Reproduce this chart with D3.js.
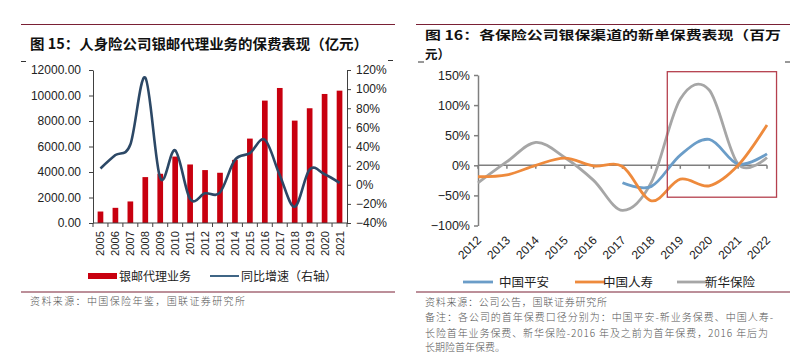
<!DOCTYPE html>
<html><head><meta charset="utf-8">
<script src="https://cdn.jsdelivr.net/npm/d3@7"></script>
<style>
html,body{margin:0;padding:0;background:#fff;}
svg{display:block;}
text{font-family:"Liberation Sans",Arial,sans-serif;}
.cjk{font-family:"Noto Sans CJK SC","Noto Sans",sans-serif;}
</style></head>
<body>
<svg id="c" width="807" height="355"></svg>
<script>
// ---------- Data: chart 15 ----------
const years1 = ["2005","2006","2007","2008","2009","2010","2011","2012","2013","2014","2015","2016","2017","2018","2019","2020","2021"];
const premium = [900,1190,1690,3600,3860,5210,4590,4150,3940,4950,6620,9600,10590,8030,9000,10120,10380];
const growth = [0.17,0.31,0.42,1.12,0.07,0.36,-0.15,-0.09,-0.08,0.26,0.33,0.47,0.10,-0.23,0.16,0.11,0.02];
const leftTicks1 = [0,2000,4000,6000,8000,10000,12000];
const rightTicks1 = [-0.4,-0.2,0,0.2,0.4,0.6,0.8,1.0,1.2];
const legend1 = ["银邮代理业务","同比增速（右轴）"];
const title1 = "图 15：人身险公司银邮代理业务的保费表现（亿元）";
const source1 = "资料来源：中国保险年鉴，国联证券研究所";

// ---------- Data: chart 16 ----------
const years2 = ["2012","2013","2014","2015","2016","2017","2018","2019","2020","2021","2022"];
const pingan = [null,null,null,null,null,-0.29,-0.35,0.17,0.43,0.02,0.19];
const renshou = [-0.19,-0.16,0.0,0.12,-0.01,-0.02,-0.59,-0.23,-0.34,0.0,0.67];
const xinhua = [-0.29,0.06,0.38,0.13,-0.25,-0.75,-0.28,1.10,1.25,0.02,0.13];
const seriesNames2 = ["中国平安","中国人寿","新华保险"];
const yTicks2 = [-1,-0.5,0,0.5,1,1.5];
const title2a = "图 16：各保险公司银保渠道的新单保费表现（百万";
const title2b = "元）";
const source2 = ["资料来源：公司公告，国联证券研究所",
  "备注：各公司的首年保费口径分别为：中国平安-新业务保费、中国人寿-",
  "长险首年业务保费、新华保险-2016 年及之前为首年保费，2016 年后为",
  "长期险首年保费。"];
// highlight box in data units (category index, value)
const highlight = {i0: 6.55, i1: 10.33, v0: -0.53, v1: 1.555};

const svg = d3.select("#c");
const ruleColor = "#7a2035";

// ================= Chart 15 =================
(function(){
  const g = svg.append("g");
  g.append("line").attr("x1",21).attr("x2",395).attr("y1",24.5).attr("y2",24.5).attr("stroke",ruleColor).attr("stroke-width",1.2);
  g.append("text").attr("class","cjk").attr("x",30).attr("y",49).attr("font-size",14).attr("font-weight",700)
    .attr("textLength",338).attr("lengthAdjust","spacingAndGlyphs").attr("fill","#111").text(title1);
  g.append("line").attr("x1",21).attr("x2",26).attr("y1",61.5).attr("y2",61.5).attr("stroke","#333");
  g.append("line").attr("x1",388).attr("x2",393).attr("y1",60.5).attr("y2",60.5).attr("stroke","#333");

  const x = d3.scaleBand().domain(years1).range([93,347]).padding(0);
  const yL = d3.scaleLinear().domain([0,12000]).range([223,70]);
  const yR = d3.scaleLinear().domain([-0.4,1.2]).range([223,70]);
  const axisCol = "#404040";

  const bw = x.step()*0.38;
  g.selectAll("rect.bar").data(years1).join("rect")
    .attr("x", d=>x(d)+(x.step()-bw)/2).attr("width",bw)
    .attr("y", (d,i)=>yL(premium[i])).attr("height",(d,i)=>yL(0)-yL(premium[i]))
    .attr("fill","#c8000f");

  const la = g.append("g").attr("transform",`translate(${x.range()[0]},0)`)
    .call(d3.axisLeft(yL).tickValues(leftTicks1).tickFormat(d3.format(".2f")).tickSize(4).tickSizeOuter(0));
  la.select(".domain").attr("stroke",axisCol);
  la.selectAll(".tick line").attr("stroke",axisCol);
  la.selectAll("text").attr("font-size",12).attr("fill","#222").attr("x",-12);
  const ra = g.append("g").attr("transform",`translate(${x.range()[1]},0)`)
    .call(d3.axisRight(yR).tickValues(rightTicks1).tickFormat(d3.format(".0%")).tickSize(4).tickSizeOuter(0));
  ra.select(".domain").attr("stroke",axisCol);
  ra.selectAll(".tick line").attr("stroke",axisCol);
  ra.selectAll("text").attr("font-size",12).attr("fill","#222").attr("x",9);
  g.append("line").attr("x1",x.range()[0]).attr("x2",x.range()[1]).attr("y1",yL(0)).attr("y2",yL(0)).attr("stroke",axisCol);
  g.selectAll("line.xt").data(years1.concat(["end"])).join("line")
    .attr("x1",(d,i)=>x.range()[0]+i*x.step()).attr("x2",(d,i)=>x.range()[0]+i*x.step())
    .attr("y1",yL(0)).attr("y2",yL(0)+4).attr("stroke",axisCol);
  g.selectAll("text.xl").data(years1).join("text")
    .attr("transform",d=>`translate(${x(d)+x.step()/2+4},${yL(0)+8}) rotate(-90)`)
    .attr("text-anchor","end").attr("font-size",11.2).attr("fill","#222").text(d=>d);

  const line = d3.line().x((d,i)=>x(years1[i])+x.step()/2).y(d=>yR(d)).curve(d3.curveCardinal.tension(0));
  g.append("path").attr("d",line(growth)).attr("fill","none").attr("stroke","#2c4866").attr("stroke-width",2.6);

  g.append("rect").attr("x",88).attr("y",273).attr("width",29).attr("height",6).attr("fill","#c8000f");
  g.append("text").attr("class","cjk").attr("x",119).attr("y",280.5).attr("font-size",12).attr("fill","#222").text(legend1[0]);
  g.append("line").attr("x1",210).attr("x2",239).attr("y1",276).attr("y2",276).attr("stroke","#3f6585").attr("stroke-width",2);
  g.append("text").attr("class","cjk").attr("x",241).attr("y",280.5).attr("font-size",12).attr("fill","#222").text(legend1[1]);

  g.append("line").attr("x1",21).attr("x2",395).attr("y1",292).attr("y2",292).attr("stroke",ruleColor).attr("stroke-width",1.2);
  g.append("text").attr("class","cjk").attr("x",30).attr("y",305).attr("font-size",10).attr("font-weight",300)
    .attr("textLength",215).attr("lengthAdjust","spacing").attr("fill","#555").text(source1);
})();

// ================= Chart 16 =================
(function(){
  const g = svg.append("g");
  g.append("line").attr("x1",416).attr("x2",790).attr("y1",24.5).attr("y2",24.5).attr("stroke",ruleColor).attr("stroke-width",1.2);
  g.append("text").attr("class","cjk").attr("x",425).attr("y",40).attr("font-size",12.5).attr("font-weight",700)
    .attr("textLength",356).attr("lengthAdjust","spacingAndGlyphs").attr("fill","#111").text(title2a);
  g.append("text").attr("class","cjk").attr("x",425).attr("y",58.5).attr("font-size",12.5).attr("font-weight",700)
    .attr("fill","#111").text(title2b);
  g.append("line").attr("x1",418).attr("x2",424).attr("y1",62).attr("y2",62).attr("stroke","#333");
  g.append("line").attr("x1",785).attr("x2",790).attr("y1",62).attr("y2",62).attr("stroke","#333");

  const x = d3.scalePoint().domain(years2).range([478,767]);
  const xi = d3.scaleLinear().domain([0,years2.length-1]).range(x.range());
  const y = d3.scaleLinear().domain([-1,1.5]).range([225.5,75]);
  const axisCol = "#7f7f7f";

  const ya = g.append("g").attr("transform",`translate(${x.range()[0]},0)`)
    .call(d3.axisLeft(y).tickValues(yTicks2).tickFormat(d3.format(".0%")).tickSize(4).tickSizeOuter(0));
  ya.select(".domain").attr("stroke",axisCol).attr("stroke-width",1.5);
  ya.selectAll(".tick line").attr("stroke",axisCol).attr("stroke-width",1.5);
  ya.selectAll("text").attr("font-size",12.5).attr("fill","#222").attr("x",-8);
  g.append("line").attr("x1",x.range()[0]).attr("x2",x.range()[1]).attr("y1",y(0)).attr("y2",y(0)).attr("stroke",axisCol).attr("stroke-width",1.5);
  g.selectAll("line.xt").data(years2).join("line")
    .attr("x1",d=>x(d)).attr("x2",d=>x(d)).attr("y1",y(0)).attr("y2",y(0)+3.5).attr("stroke",axisCol).attr("stroke-width",1.5);
  g.selectAll("text.xl").data(years2).join("text")
    .attr("transform",d=>`translate(${x(d)+4},${241}) rotate(-45)`)
    .attr("text-anchor","end").attr("font-size",12).attr("fill","#222").text(d=>d);

  const colors = ["#6b9dc8","#ee8a3c","#a6a6a6"];
  const data = [pingan,renshou,xinhua];
  const line = d3.line().defined(d=>d!==null).x((d,i)=>x(years2[i])).y(d=>y(d)).curve(d3.curveCardinal.tension(0));
  [2,0,1].forEach(k=>{
    g.append("path").attr("d",line(data[k])).attr("fill","none").attr("stroke",colors[k]).attr("stroke-width",2.8);
  });

  g.append("rect").attr("x",xi(highlight.i0)).attr("y",y(highlight.v1))
    .attr("width",xi(highlight.i1)-xi(highlight.i0)).attr("height",y(highlight.v0)-y(highlight.v1))
    .attr("fill","none").attr("stroke","#b5404e").attr("stroke-width",1.3);

  const lx = [463,575,677];
  const tx = [499,603,705];
  seriesNames2.forEach((n,k)=>{
    g.append("line").attr("x1",lx[k]).attr("x2",lx[k]+30).attr("y1",282).attr("y2",282).attr("stroke",colors[k]).attr("stroke-width",2.8);
    g.append("text").attr("class","cjk").attr("x",tx[k]).attr("y",286.5).attr("font-size",12.5).attr("fill","#222").text(n);
  });

  g.append("line").attr("x1",416).attr("x2",790).attr("y1",292).attr("y2",292).attr("stroke",ruleColor).attr("stroke-width",1.2);
  const sl = [182,348,343,null];
  const sy = [305.5,321,336.5,351];
  source2.forEach((s,k)=>{
    const t = g.append("text").attr("class","cjk").attr("x",425).attr("y",sy[k]).attr("font-size",10).attr("font-weight",300)
      .attr("fill","#555").text(s);
    if(sl[k]) t.attr("textLength",sl[k]).attr("lengthAdjust","spacing");
  });
})();
</script>
</body></html>
